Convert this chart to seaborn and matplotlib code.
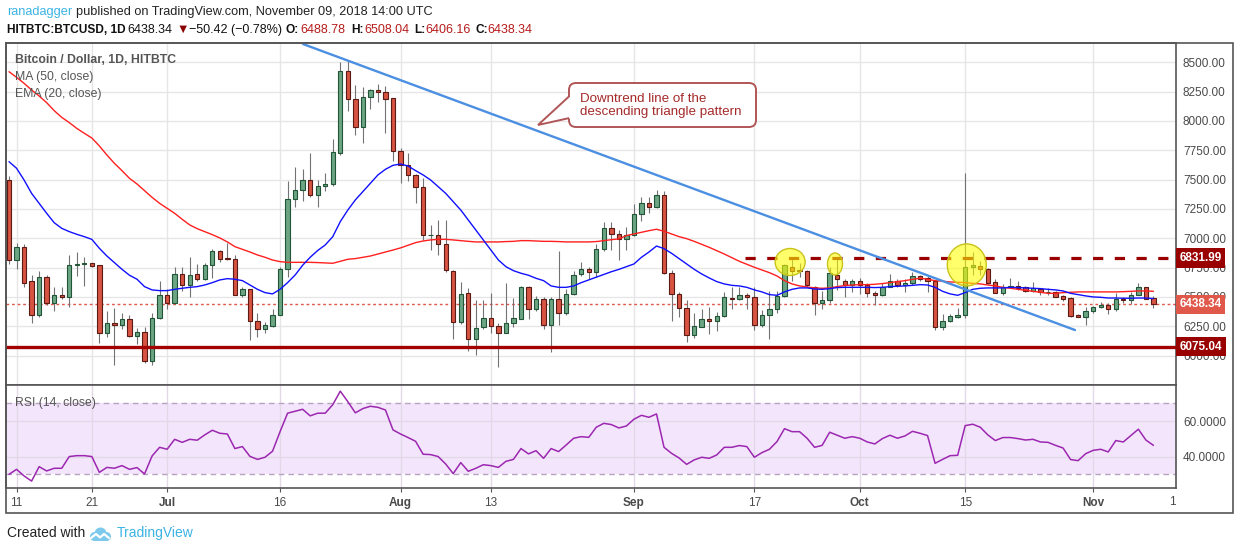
import numpy as np
import pandas as pd
import matplotlib
matplotlib.use('Agg')
import matplotlib.pyplot as plt
import matplotlib.transforms as mtransforms
from matplotlib.patches import Rectangle, Ellipse, FancyBboxPatch, Polygon, Circle
from matplotlib.lines import Line2D
import seaborn as sns

sns.set_theme(style='white')
plt.rcParams['font.family'] = ['Liberation Sans', 'DejaVu Sans']

# HITBTC BTCUSD daily candles, first candle 2018-06-10
start_date = pd.Timestamp('2018-06-10')

opens = [7500, 6815, 6923, 6633, 6344, 6667, 6446, 6514, 6500, 6770,
         6781, 6787, 6770, 6190, 6276, 6264, 6310, 6168, 6202, 5952,
         6321, 6514, 6452, 6696, 6605, 6696, 6650, 6770, 6889, 6832,
         6821, 6520, 6565, 6298, 6230, 6253, 6349, 6736, 7332, 7412,
         7497, 7366, 7446, 7460, 7730, 8423, 8190, 7951, 8207, 8264,
         8247, 8196, 7741, 7622, 7543, 7435, 7026, 7026, 6952, 6719,
         6287, 6531, 6139, 6241, 6321, 6253, 6196, 6276, 6315, 6582,
         6395, 6480, 6258, 6480, 6361, 6526, 6696, 6736, 6713, 6906,
         7088, 7037, 6995, 7026, 7207, 7304, 7270, 7366, 6702, 6526,
         6406, 6179, 6247, 6315, 6293, 6338, 6491, 6480, 6514, 6497,
         6258, 6344, 6395, 6509, 6759, 6730, 6719, 6588, 6446, 6475,
         6690, 6639, 6599, 6633, 6605, 6531, 6514, 6588, 6633, 6599,
         6616, 6679, 6662, 6639, 6247, 6298, 6332, 6344, 6753, 6764,
         6741, 6628, 6537, 6588, 6594, 6582, 6554, 6571, 6540, 6543,
         6508, 6491, 6344, 6332, 6378, 6412, 6435, 6395, 6486, 6474,
         6520, 6582, 6488.78]
highs = [7530, 6963, 6952, 6685, 6724, 6685, 6588, 6588, 6855, 6883,
         6844, 6792, 6776, 6383, 6406, 6367, 6344, 6236, 6241, 6361,
         6639, 6565, 6753, 6753, 6838, 6781, 6793, 6906, 6900, 6963,
         6861, 6588, 6565, 6367, 6287, 6395, 6759, 7486, 7611, 7594,
         7730, 7497, 7560, 7844, 8503, 8509, 8304, 8293, 8270, 8315,
         8298, 8200, 7770, 7724, 7548, 7514, 7111, 7156, 7156, 6730,
         6628, 6577, 6474, 6474, 6531, 6281, 6622, 6491, 6594, 6594,
         6508, 6497, 6497, 6895, 6565, 6724, 6798, 6759, 6952, 7139,
         7139, 7071, 7100, 7293, 7355, 7350, 7412, 7400, 6730, 6542,
         6474, 6361, 6395, 6418, 6372, 6543, 6588, 6588, 6531, 6582,
         6389, 6548, 6548, 6781, 6838, 6793, 6730, 6594, 6554, 6758,
         6821, 6650, 6656, 6662, 6622, 6554, 6622, 6696, 6650, 6650,
         6713, 6690, 6685, 6645, 6355, 6355, 6406, 7560, 6883, 6810,
         6747, 6656, 6611, 6662, 6633, 6594, 6628, 6577, 6577, 6554,
         6514, 6497, 6355, 6418, 6423, 6457, 6446, 6531, 6503, 6543,
         6622, 6588, 6508.04]
lows = [6780, 6736, 6582, 6281, 6327, 6429, 6383, 6480, 6418, 6679,
        6594, 6758, 6111, 6156, 5918, 6230, 6162, 6100, 5940, 5918,
        6310, 6395, 6440, 6554, 6497, 6639, 6645, 6662, 6798, 6815,
        6514, 6497, 6133, 6156, 6196, 6247, 6344, 6673, 7264, 7315,
        7349, 7270, 7400, 7443, 7713, 8088, 7883, 7815, 8105, 8162,
        7900, 7662, 7469, 7486, 7304, 6986, 6900, 6861, 6713, 6139,
        6270, 6037, 6009, 6230, 6190, 5906, 6190, 6247, 6310, 6315,
        6383, 6230, 6031, 6258, 6349, 6514, 6679, 6656, 6667, 6889,
        6900, 6815, 6900, 7020, 7150, 7213, 7259, 6696, 6293, 6332,
        6116, 6150, 6247, 6185, 6213, 6332, 6401, 6474, 6395, 6219,
        6247, 6139, 6366, 6503, 6633, 6673, 6588, 6349, 6395, 6452,
        6560, 6497, 6542, 6525, 6497, 6435, 6509, 6582, 6582, 6542,
        6605, 6639, 6542, 6219, 6219, 6287, 6321, 6321, 6690, 6690,
        6611, 6531, 6520, 6588, 6560, 6543, 6543, 6514, 6520, 6497,
        6469, 6332, 6327, 6258, 6366, 6406, 6355, 6383, 6446, 6440,
        6514, 6480, 6406.16]
closes = [6815, 6923, 6622, 6344, 6667, 6446, 6514, 6497, 6770, 6781,
          6787, 6764, 6190, 6276, 6264, 6310, 6168, 6202, 5952, 6321,
          6514, 6452, 6696, 6605, 6685, 6650, 6770, 6889, 6821, 6821,
          6520, 6565, 6298, 6230, 6258, 6349, 6736, 7332, 7412, 7497,
          7366, 7446, 7460, 7736, 8423, 8190, 7946, 8202, 8264, 8247,
          8190, 7741, 7622, 7537, 7435, 7026, 7030, 6952, 6730, 6287,
          6526, 6139, 6236, 6321, 6253, 6190, 6276, 6321, 6582, 6395,
          6480, 6258, 6480, 6361, 6526, 6690, 6736, 6713, 6906, 7088,
          7037, 6991, 7030, 7207, 7304, 7270, 7366, 6702, 6526, 6406,
          6179, 6253, 6315, 6293, 6338, 6497, 6480, 6514, 6497, 6258,
          6344, 6395, 6509, 6770, 6724, 6719, 6599, 6446, 6475, 6702,
          6651, 6599, 6633, 6605, 6531, 6514, 6588, 6633, 6599, 6616,
          6679, 6656, 6633, 6247, 6298, 6338, 6349, 6753, 6770, 6741,
          6622, 6537, 6588, 6594, 6577, 6554, 6577, 6543, 6546, 6503,
          6486, 6338, 6332, 6378, 6412, 6435, 6395, 6486, 6474, 6514,
          6582, 6486, 6438.34]

# indicator values as drawn on the chart
ma50 = [8420, 8372, 8321, 8264, 8213, 8156, 8088, 8031, 7986, 7937,
        7895, 7855, 7787, 7710, 7639, 7577, 7511, 7463, 7406, 7349,
        7298, 7256, 7213, 7162, 7114, 7082, 7057, 7031, 7003, 6969,
        6929, 6906, 6883, 6858, 6838, 6815, 6801, 6795, 6795, 6795,
        6795, 6793, 6790, 6787, 6804, 6821, 6827, 6838, 6849, 6866,
        6883, 6900, 6918, 6940, 6963, 6977, 6986, 6991, 6991, 6986,
        6980, 6974, 6969, 6969, 6969, 6969, 6972, 6974, 6980, 6980,
        6977, 6974, 6974, 6972, 6969, 6969, 6969, 6969, 6972, 6980,
        6988, 6995, 7023, 7037, 7051, 7065, 7077, 7060, 7037, 7014,
        6997, 6974, 6949, 6923, 6895, 6866, 6835, 6804, 6778, 6753,
        6730, 6707, 6679, 6639, 6611, 6594, 6585, 6577, 6574, 6577,
        6588, 6597, 6602, 6605, 6605, 6608, 6614, 6622, 6631, 6639,
        6650, 6660, 6651, 6639, 6634, 6628, 6625, 6622, 6616, 6611,
        6602, 6594, 6582, 6574, 6565, 6557, 6548, 6540, 6531, 6531,
        6537, 6540, 6543, 6543, 6543, 6543, 6543, 6543, 6545, 6548,
        6551, 6551, 6548]
ema20 = [7653, 7597, 7497, 7383, 7298, 7213, 7133, 7085, 7057, 7034,
         7014, 6991, 6915, 6849, 6793, 6736, 6685, 6651, 6588, 6560,
         6554, 6554, 6565, 6574, 6582, 6588, 6602, 6622, 6645, 6656,
         6651, 6639, 6602, 6565, 6537, 6526, 6565, 6622, 6687, 6770,
         6838, 6896, 6943, 7014, 7142, 7241, 7327, 7398, 7469, 7540,
         7588, 7622, 7633, 7616, 7577, 7540, 7497, 7440, 7383, 7312,
         7241, 7156, 7071, 6986, 6900, 6815, 6758, 6724, 6702, 6685,
         6659, 6639, 6594, 6582, 6582, 6594, 6622, 6645, 6668, 6690,
         6715, 6735, 6758, 6781, 6838, 6883, 6934, 6912, 6872, 6827,
         6781, 6736, 6696, 6662, 6631, 6611, 6599, 6594, 6582, 6560,
         6543, 6520, 6514, 6543, 6565, 6577, 6577, 6568, 6565, 6571,
         6580, 6582, 6582, 6582, 6582, 6580, 6582, 6588, 6591, 6594,
         6599, 6605, 6602, 6582, 6548, 6526, 6514, 6537, 6565, 6574,
         6577, 6577, 6577, 6582, 6580, 6577, 6574, 6571, 6565, 6560,
         6551, 6531, 6520, 6509, 6500, 6497, 6491, 6491, 6489, 6489,
         6491, 6491, 6486]
rsi14 = [30.0, 32.8, 29.1, 26.2, 34.3, 31.9, 33.4, 33.4, 40.0, 40.5,
         40.5, 40.0, 31.1, 33.9, 33.4, 34.9, 32.8, 33.8, 30.2, 40.3,
         45.2, 44.1, 49.7, 48.0, 49.7, 49.2, 52.2, 54.8, 53.1, 52.7,
         44.5, 45.6, 40.1, 38.4, 39.6, 43.0, 54.0, 64.4, 65.5, 66.6,
         62.9, 64.4, 64.4, 69.2, 76.8, 70.9, 64.6, 67.0, 68.3, 67.7,
         66.2, 55.0, 52.7, 50.7, 48.6, 41.3, 41.1, 40.0, 35.8, 30.4,
         36.6, 31.7, 33.4, 35.4, 34.9, 33.9, 37.3, 38.4, 44.5, 41.5,
         43.3, 39.0, 44.5, 42.8, 46.5, 50.3, 51.2, 50.8, 56.5, 58.7,
         58.0, 56.1, 57.2, 61.0, 63.2, 62.1, 64.0, 45.2, 41.8, 39.2,
         35.6, 38.1, 39.6, 39.0, 40.9, 45.2, 45.2, 46.2, 45.6, 39.6,
         42.2, 44.1, 48.4, 55.7, 54.0, 54.0, 50.3, 45.2, 46.3, 53.7,
         52.0, 50.3, 51.2, 50.3, 48.2, 47.1, 50.1, 52.0, 50.3, 51.6,
         54.2, 53.1, 51.8, 36.2, 38.4, 40.5, 40.7, 57.4, 58.2, 56.5,
         52.2, 49.0, 50.7, 50.7, 50.1, 49.3, 49.7, 48.2, 48.0, 46.3,
         44.8, 38.3, 37.7, 41.6, 43.5, 44.1, 42.6, 49.0, 48.2, 51.8,
         55.4, 49.3, 46.3]

tick_dates = ['2018-06-11', '2018-06-21', '2018-07-01', '2018-07-16', '2018-08-01', '2018-08-13',
              '2018-09-01', '2018-09-17', '2018-10-01', '2018-10-15', '2018-11-01']
tick_labels = ['11', '21', 'Jul', '16', 'Aug', '13', 'Sep', '17', 'Oct', '15', 'Nov']
price_ticks = [6000, 6250, 6500, 6750, 7000, 7250, 7500, 7750, 8000, 8250, 8500]
rsi_ticks = [40, 60]

support_level = 6075.04
resistance_level = 6831.99
resistance_from = '2018-09-15 17:00'
trend_dates = ['2018-07-19 01:00', '2018-10-29 14:00']
trend_prices = [8656, 6218]
highlight_dates = ['2018-09-21 18:00', '2018-09-27 17:00', '2018-10-15 05:00']
highlight_prices = [6798, 6781, 6773]
highlight_size_px = [(30, 27), (15, 22), (39, 42)]

for arr in (opens, highs, lows, closes, ma50, ema20, rsi14):
    assert len(arr) == 153, len(arr)


def to_day(d):
    return (pd.Timestamp(d) - start_date) / pd.Timedelta(days=1)


df = pd.DataFrame({'open': opens, 'high': highs, 'low': lows, 'close': closes,
                   'ma50': ma50, 'ema20': ema20, 'rsi': rsi14})
df['day'] = np.arange(len(df))

W, H = 1240, 550
fig = plt.figure(figsize=(W / 100, H / 100), dpi=100, facecolor='white')
# transform in image pixels, origin top-left
px = mtransforms.Affine2D().scale(1 / W, -1 / H).translate(0, 1) + fig.transFigure

X0, X1 = 6, 1176
Y_TOP, Y_SPLIT, Y_BOT = 43.3, 385.3, 488.0
ax = fig.add_axes([X0 / W, 1 - Y_SPLIT / H, (X1 - X0) / W, (Y_SPLIT - Y_TOP) / H])
ax_rsi = fig.add_axes([X0 / W, 1 - Y_BOT / H, (X1 - X0) / W, (Y_BOT - Y_SPLIT) / H], sharex=ax)

XLIM = (-0.4, 155.0)
YLIM = (5747, 8662)
GRID = '#e6e6e6'
SPINE = '#555555'
TXT = '#4a4a4a'

# ---- candles ----
up = df['close'] >= df['open']
body_low = df[['open', 'close']].min(axis=1)
body_h = (df['close'] - df['open']).abs().clip(lower=2)
ax.vlines(df['day'], df['low'], df['high'], color='#737375', lw=0.8, zorder=3)
for mask, fc, ec in [(up, '#6ba583', '#225437'), (~up, '#d75442', '#5b1a13')]:
    ax.bar(df.loc[mask, 'day'], body_h[mask], bottom=body_low[mask], width=0.58,
           color=fc, edgecolor=ec, linewidth=0.8, zorder=4)

sns.lineplot(data=df, x='day', y='ma50', ax=ax, color='#ff1f1f', linewidth=1.0, zorder=5)
sns.lineplot(data=df, x='day', y='ema20', ax=ax, color='#1010ff', linewidth=1.0, zorder=5)

# levels and drawings
ax.axhline(closes[-1], color='#e0584a', lw=1.0, ls=(0, (2, 2)), zorder=2)
ax.axhline(support_level, color='#a30000', lw=2.4, zorder=5)
ax.plot([to_day(resistance_from), XLIM[1]], [resistance_level] * 2, color='#9b0000',
        lw=2.3, ls=(0, (3.2, 3.6)), zorder=5)
ax.plot([to_day(d) for d in trend_dates], trend_prices, color='#4b8fe2', lw=1.7,
        solid_capstyle='round', zorder=6)

days_per_px = (XLIM[1] - XLIM[0]) / (X1 - X0)
price_per_px = (YLIM[1] - YLIM[0]) / (Y_SPLIT - Y_TOP)
for d, p, (wpx, hpx) in zip(highlight_dates, highlight_prices, highlight_size_px):
    ax.add_patch(Ellipse((to_day(d), p), wpx * days_per_px, hpx * price_per_px,
                         fc=(1, 1, 0, 0.58), ec='#c9c21a', lw=1.0, zorder=7))

ax.set_xlim(*XLIM)
ax.set_ylim(*YLIM)
ax.set(xlabel='', ylabel='')
ax.set_yticks(price_ticks)
ax.set_yticklabels([f'{v:.2f}' for v in price_ticks])
tick_pos = [to_day(d) for d in tick_dates]
ax.set_xticks(tick_pos)
ax.tick_params(axis='x', length=0, labelbottom=False)
ax.tick_params(axis='y', length=0, pad=5, labelsize=8.5, labelcolor=TXT,
               left=False, labelleft=False, right=True, labelright=True)
ax.grid(True, color=GRID, lw=1)
ax.set_axisbelow(True)

# price boxes on the axis
box_tr = mtransforms.blended_transform_factory(ax.transAxes, ax.transData) + \
    mtransforms.ScaledTranslation(2.6 / 72, 0, fig.dpi_scale_trans)
for level, col in [(resistance_level, '#990000'), (closes[-1], '#e0584a'), (support_level, '#990000')]:
    ax.text(1.0, level, f'{level:.2f}', transform=box_tr, ha='left', va='center',
            color='white', fontsize=8.5, fontweight='bold', clip_on=False, zorder=10,
            bbox=dict(boxstyle='square,pad=0.3', fc=col, ec='none'))

# ---- RSI panel ----
ax_rsi.axhspan(30, 70, color='#f3e6fc', zorder=0.2, lw=0)
for lvl in (30, 70):
    ax_rsi.axhline(lvl, color='#b7a3c0', lw=1.0, ls=(0, (4, 3)), zorder=1)
sns.lineplot(data=df, x='day', y='rsi', ax=ax_rsi, color='#9c27b0', linewidth=1.1, zorder=5)
ax_rsi.set_ylim(22.3, 80.1)
ax_rsi.set(xlabel='', ylabel='')
ax_rsi.set_yticks(rsi_ticks)
ax_rsi.set_yticklabels([f'{v:.4f}' for v in rsi_ticks])
ax_rsi.set_xticks(tick_pos)
ax_rsi.set_xticklabels(tick_labels)
for lab in ax_rsi.get_xticklabels():
    if lab.get_text().isalpha():
        lab.set_fontweight('bold')
ax_rsi.tick_params(axis='x', length=3, width=0.8, color=SPINE, pad=3.5, labelsize=8.5,
                   labelcolor=TXT, bottom=True)
ax_rsi.tick_params(axis='y', length=0, pad=5, labelsize=8.5, labelcolor=TXT,
                   left=False, labelleft=False, right=True, labelright=True)
ax_rsi.grid(True, color='#e2d8e8', lw=1)
ax_rsi.set_axisbelow(True)
ax_rsi.set_xlim(*XLIM)

for a in (ax, ax_rsi):
    for s in a.spines.values():
        s.set_color(SPINE)
        s.set_linewidth(1.2)

# outer frame
fig.add_artist(Rectangle((6, 43.3), 1227, 470, transform=px, fill=False, ec=SPINE, lw=1.2))

# cropped last date label
t12 = fig.text(1176, 502, '12', transform=px, ha='center', va='center', fontsize=8.5, color=TXT)
t12.set_clip_path(Rectangle((0, 0), 1176, 550, transform=px))
t12.set_clip_on(True)

# ---- texts ----
fig.text(7, 12, 'ranadagger', transform=px, va='center', fontsize=9.2, color='#3bb3e4')
fig.text(76, 12, 'published on TradingView.com, November 09, 2018 14:00 UTC', transform=px,
         va='center', fontsize=9.2, color='#222222')
red_val = '#b71c1c'
header = [(7, 'HITBTC:BTCUSD, 1D', '#111111', 'bold'), (127, '6438.34', '#111111', 'normal'),
          (176, '\u25bc', '#8b0000', 'normal'), (189, '\u221250.42 (\u22120.78%)', '#111111', 'normal'),
          (285, 'O:', '#111111', 'bold'), (300, '6488.78', red_val, 'normal'),
          (351, 'H:', '#111111', 'bold'), (364, '6508.04', red_val, 'normal'),
          (414, 'L:', '#111111', 'bold'), (425, '6406.16', red_val, 'normal'),
          (475, 'C:', '#111111', 'bold'), (487, '6438.34', red_val, 'normal')]
for x, s, c, w in header:
    fig.text(x, 30, s, transform=px, va='center', fontsize=9 if w == 'normal' else 8.6,
             color=c, fontweight=w)

fig.text(15, 60, 'Bitcoin / Dollar, 1D, HITBTC', transform=px, va='center', fontsize=8.8,
         fontweight='bold', color='#555555')
fig.text(15, 77, 'MA (50, close)', transform=px, va='center', fontsize=8.8, color='#555555')
fig.text(15, 94, 'EMA (20, close)', transform=px, va='center', fontsize=8.8, color='#555555')
fig.text(15, 403, 'RSI (14, close)', transform=px, va='center', fontsize=8.8, color='#555555')

# callout
CO = '#b05656'
fig.add_artist(FancyBboxPatch((569, 83), 187, 44, boxstyle='round,pad=0,rounding_size=7',
                              transform=px, fc='white', ec=CO, lw=1.4, zorder=8))
fig.add_artist(Polygon([(569.5, 96), (538, 125), (569.5, 118)], closed=False, transform=px,
                       fc='white', ec=CO, lw=1.4, zorder=9))
fig.add_artist(Line2D([569.5, 569.5], [97.5, 116.5], transform=px, color='white', lw=2.2, zorder=10))
fig.text(580, 99, 'Downtrend line of the', transform=px, va='center', fontsize=9.6,
         color='#a52a2a', zorder=11)
fig.text(580, 111.5, 'descending triangle pattern', transform=px, va='center', fontsize=9.6,
         color='#a52a2a', zorder=11)

# footer
fig.text(7, 533, 'Created with', transform=px, va='center', fontsize=10, color='#222222')
fig.text(117, 533, 'TradingView', transform=px, va='center', fontsize=10, color='#3bb3e4')
ax_logo = fig.add_axes([88 / W, 1 - 542 / H, 24 / W, 16 / H])
ax_logo.set_xlim(0, 24)
ax_logo.set_ylim(0, 16)
ax_logo.axis('off')
for cx, cy, r in [(6.5, 5.5, 4.5), (12.5, 8.5, 6), (18.5, 5.5, 4.5)]:
    ax_logo.add_patch(Circle((cx, cy), r, color='#7cc9ec', lw=0))
ax_logo.add_patch(Rectangle((6.5, 1), 12, 5, color='#7cc9ec', lw=0))
ax_logo.plot([3, 8, 12, 16, 21], [4, 8, 4.5, 8, 4], color='white', lw=1.6)

fig.savefig('out.png', dpi=100, facecolor='white')
